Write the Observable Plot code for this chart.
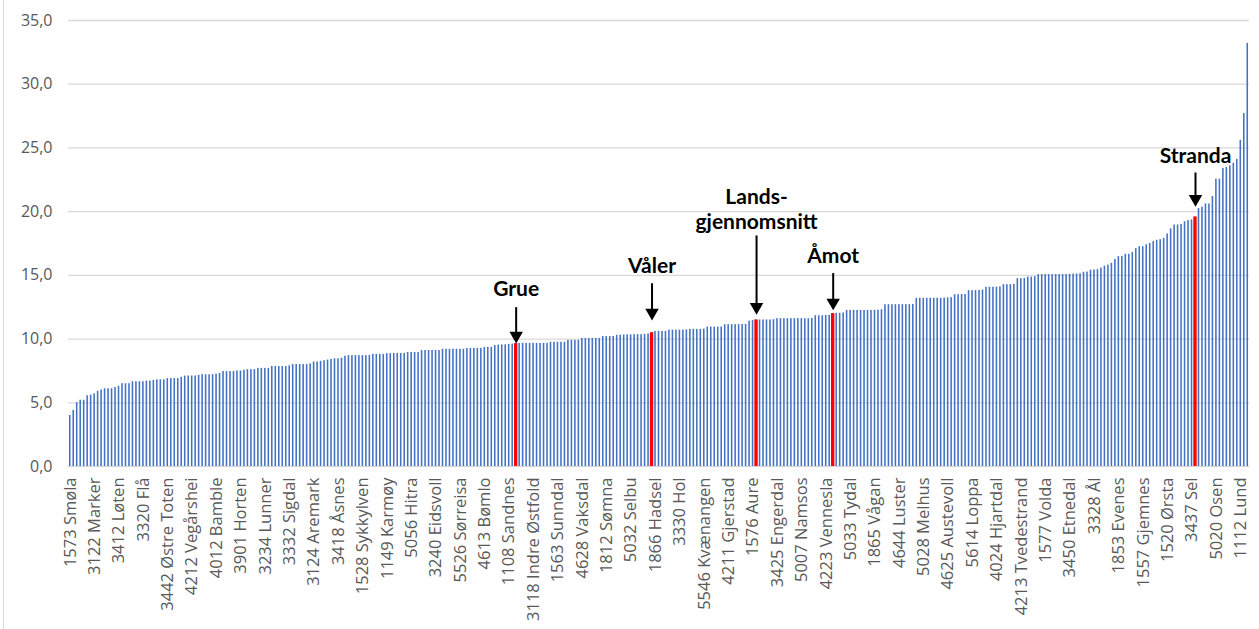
<!DOCTYPE html>
<html>
<head>
<meta charset="utf-8">
<script src="https://cdn.jsdelivr.net/npm/d3@7"></script>
<script src="https://cdn.jsdelivr.net/npm/@observablehq/plot@0.6"></script>
<style>
  html, body { margin: 0; padding: 0; background: #fff; }
  #wrap { position: relative; width: 1259px; height: 629px; }
  #frame { position: absolute; left: 3px; top: 0; width: 1px; height: 629px; background: #d9d9d9; }
  #chart { position: absolute; left: 0; top: 0; }
</style>
</head>
<body>
<div id="wrap"><div id="frame"></div><div id="chart"></div></div>
<script>
// Sorted values, one per municipality (plus the national average)
const values = [
  4.0, 4.4, 5.0, 5.2, 5.2, 5.55, 5.6, 5.7, 5.9, 6.0,
  6.1, 6.1, 6.1, 6.2, 6.3, 6.5, 6.5, 6.5, 6.65, 6.65,
  6.65, 6.65, 6.7, 6.7, 6.75, 6.8, 6.8, 6.8, 6.9, 6.9,
  6.9, 6.9, 7.0, 7.1, 7.1, 7.1, 7.1, 7.15, 7.2, 7.2,
  7.2, 7.2, 7.25, 7.3, 7.45, 7.45, 7.45, 7.45, 7.5, 7.5,
  7.55, 7.6, 7.6, 7.6, 7.7, 7.7, 7.7, 7.7, 7.85, 7.85,
  7.85, 7.85, 7.85, 7.9, 8.0, 8.0, 8.0, 8.0, 8.0, 8.05,
  8.2, 8.2, 8.25, 8.3, 8.35, 8.4, 8.45, 8.45, 8.5, 8.65,
  8.7, 8.7, 8.7, 8.7, 8.7, 8.7, 8.72, 8.8, 8.8, 8.8,
  8.8, 8.85, 8.85, 8.87, 8.87, 8.87, 8.88, 8.95, 8.95, 8.95,
  8.95, 9.1, 9.1, 9.1, 9.1, 9.1, 9.1, 9.2, 9.2, 9.2,
  9.2, 9.2, 9.2, 9.2, 9.27, 9.27, 9.27, 9.27, 9.27, 9.35,
  9.35, 9.35, 9.5, 9.52, 9.54, 9.55, 9.58, 9.6, 9.64, 9.66,
  9.66, 9.66, 9.66, 9.66, 9.66, 9.66, 9.66, 9.66, 9.75, 9.75,
  9.75, 9.75, 9.75, 9.9, 9.9, 9.9, 9.9, 10.05, 10.05, 10.05,
  10.05, 10.05, 10.05, 10.2, 10.2, 10.2, 10.2, 10.3, 10.3, 10.32,
  10.33, 10.33, 10.34, 10.35, 10.35, 10.37, 10.4, 10.5, 10.6, 10.6,
  10.6, 10.6, 10.7, 10.7, 10.7, 10.7, 10.7, 10.72, 10.76, 10.76,
  10.76, 10.76, 10.78, 10.94, 10.94, 10.94, 10.94, 10.95, 11.13, 11.13,
  11.13, 11.13, 11.13, 11.14, 11.15, 11.4, 11.45, 11.5, 11.5, 11.5,
  11.5, 11.5, 11.52, 11.6, 11.6, 11.6, 11.6, 11.6, 11.6, 11.6,
  11.6, 11.6, 11.6, 11.62, 11.83, 11.83, 11.83, 11.85, 11.87, 12.0,
  12.02, 12.02, 12.05, 12.25, 12.25, 12.25, 12.25, 12.25, 12.25, 12.25,
  12.25, 12.25, 12.27, 12.3, 12.7, 12.7, 12.7, 12.7, 12.7, 12.7,
  12.7, 12.7, 12.72, 13.2, 13.2, 13.2, 13.2, 13.2, 13.2, 13.2,
  13.2, 13.22, 13.23, 13.25, 13.48, 13.48, 13.5, 13.5, 13.8, 13.8,
  13.8, 13.82, 13.85, 14.06, 14.06, 14.06, 14.08, 14.1, 14.27, 14.27,
  14.27, 14.3, 14.74, 14.74, 14.76, 14.87, 14.87, 14.9, 15.06, 15.06,
  15.06, 15.06, 15.06, 15.06, 15.06, 15.06, 15.06, 15.08, 15.1, 15.1,
  15.12, 15.24, 15.26, 15.4, 15.42, 15.45, 15.57, 15.72, 15.8, 15.95,
  16.24, 16.47, 16.47, 16.65, 16.65, 16.8, 17.1, 17.25, 17.25, 17.4,
  17.5, 17.65, 17.75, 17.8, 17.9, 18.25, 18.65, 18.95, 18.95, 19.0,
  19.2, 19.3, 19.35, 19.58, 20.24, 20.35, 20.6, 20.6, 21.2, 22.55,
  22.55, 23.38, 23.46, 23.6, 23.8, 24.1, 25.6, 27.7, 33.2
];

// Category labels shown on the x axis (every 7th bar)
const tickLabels = [
  "1573 Smøla", "3122 Marker", "3412 Løten", "3320 Flå", "3442 Østre Toten",
  "4212 Vegårshei", "4012 Bamble", "3901 Horten", "3234 Lunner", "3332 Sigdal",
  "3124 Aremark", "3418 Åsnes", "1528 Sykkylven", "1149 Karmøy", "5056 Hitra",
  "3240 Eidsvoll", "5526 Sørreisa", "4613 Bømlo", "1108 Sandnes", "3118 Indre Østfold",
  "1563 Sunndal", "4628 Vaksdal", "1812 Sømna", "5032 Selbu", "1866 Hadsel",
  "3330 Hol", "5546 Kvænangen", "4211 Gjerstad", "1576 Aure", "3425 Engerdal",
  "5007 Namsos", "4223 Vennesla", "5033 Tydal", "1865 Vågan", "4644 Luster",
  "5028 Melhus", "4625 Austevoll", "5614 Loppa", "4024 Hjartdal", "4213 Tvedestrand",
  "1577 Volda", "3450 Etnedal", "3328 Ål", "1853 Evenes", "1557 Gjemnes",
  "1520 Ørsta", "3437 Sel", "5020 Osen", "1112 Lund"
];
const labelEvery = 7;

// Highlighted bars (position in the sorted order) and their annotation text
const highlightNames = ["Grue", "Våler", "Lands-\ngjennomsnitt", "Åmot", "Stranda"];
const highlightIndex = [128, 167, 197, 219, 323];

// y-axis ticks
const yTicks = [0, 5, 10, 15, 20, 25, 30, 35];

// ---- layout (pixels) ----
const W = 1259, H = 629, mT = 20, mB = 163, mL = 68, mR = 10;
const pxPerUnit = (H - mT - mB) / 35;
// per-annotation: gap above bar top to arrow tip, arrow length, gap from arrow start to text baseline
const annLayout = [
  {gap: 0, len: 36, tg: 12},
  {gap: 12, len: 37, tg: 11},
  {gap: 5, len: 79, tg: 7},
  {gap: 3, len: 37, tg: 11},
  {gap: 10, len: 34, tg: 10}
];

const N = values.length;
const idx = d3.range(N);
const bars = idx.map(i => ({i, v: values[i]}));
const ann = highlightIndex.map((i, k) => ({
  i, v: values[i], name: highlightNames[k], ...annLayout[k]
}));
const u = px => px / pxPerUnit;

const chart = Plot.plot({
  width: W, height: H,
  marginTop: mT, marginBottom: mB, marginLeft: mL, marginRight: mR,
  style: {fontFamily: "'Open Sans', sans-serif", color: "#595959", background: "transparent"},
  x: {type: "band", domain: idx, paddingInner: 0.55, paddingOuter: 0.275},
  y: {domain: [0, 35]},
  marks: [
    Plot.gridY(yTicks, {stroke: "#d9d9d9", strokeOpacity: 1, strokeWidth: 1.3}),
    Plot.axisY(yTicks, {
      tickSize: 0, tickPadding: 16, fontSize: 16, label: null,
      tickFormat: d => d.toFixed(1).replace(".", ",")
    }),
    Plot.barY(bars, {x: "i", y: "v", fill: "#4472c4"}),
    Plot.barY(ann, {x: "i", y: "v", fill: "#ff0000", insetLeft: -0.9, insetRight: -0.9}),
    Plot.axisX(tickLabels.map((_, k) => k * labelEvery), {
      tickSize: 0, tickPadding: 11, tickRotate: -90, fontSize: 16.5, label: null,
      tickFormat: i => tickLabels[i / labelEvery]
    }),
    Plot.ruleX(ann, {
      x: "i",
      y1: d => d.v + u(d.gap + d.len),
      y2: d => d.v + u(d.gap + 10),
      stroke: "black", strokeWidth: 2
    }),
    Plot.dot(ann, {
      x: "i", y: d => d.v + u(d.gap + 8),
      symbol: "triangle", rotate: 180, r: 5, fill: "black", stroke: "none"
    }),
    Plot.text(ann, {
      x: "i", y: d => d.v + u(d.gap + d.len + d.tg),
      text: "name", lineAnchor: "bottom", lineHeight: 1.2,
      fontSize: 21, fontWeight: "bold", fontFamily: "Lato, 'Open Sans', sans-serif",
      fill: "black"
    })
  ]
});
document.getElementById("chart").appendChild(chart);
</script>
</body>
</html>
